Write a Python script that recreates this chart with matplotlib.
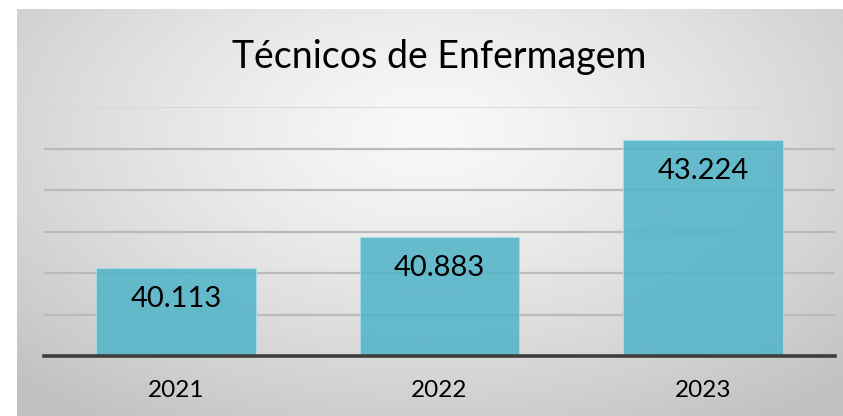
import numpy as np
import matplotlib
matplotlib.use("Agg")
import matplotlib.pyplot as plt

# data
years = ["2021", "2022", "2023"]
tecnicos = [40113, 40883, 43224]
labels = ["40.113", "40.883", "43.224"]
grid_vals = [39000, 40000, 41000, 42000, 43000]

W, H = 843, 416
fig = plt.figure(figsize=(W / 100, H / 100), dpi=100)
fig.patch.set_facecolor("white")

# gray panel with radial gradient
px0, py0 = 17, 9
bg = fig.add_axes([px0 / W, 0, 1 - px0 / W, 1 - py0 / H])
bg.set_axis_off()
yy, xx = np.mgrid[0:1:300j, 0:1:600j]
r = np.sqrt(((xx - 0.5) / 0.75) ** 2 + ((yy - 0.3) / 0.9) ** 2)
shade = np.clip(0.975 - 0.23 * r ** 1.3, 0.76, 0.98)
bg.imshow(np.dstack([shade] * 3), aspect="auto", extent=[0, 1, 0, 1], origin="upper")
bg.set_xlim(0, 1)
bg.set_ylim(0, 1)

# plot area
ax = fig.add_axes([44 / W, (H - 356) / H, (835 - 44) / W, (356 - 107.5) / H])
ax.patch.set_alpha(0)
x = np.arange(len(years))
for g in grid_vals:
    ax.axhline(g, color="#bababa", lw=1.6, zorder=1)
ax.axhline(44000, color="#d6d6d6", lw=1.2, zorder=1)

bars = ax.bar(x, tecnicos, width=0.605, bottom=0, color="#53b4c8", alpha=0.88,
              edgecolor="#a9dde7", linewidth=0.8, zorder=2)
ax.axhline(38000, color="#3e3e3e", lw=2.6, zorder=3, clip_on=False)

for xi, v, lab in zip(x, tecnicos, labels):
    ax.annotate(lab, (xi, v), xytext=(0, -31), textcoords="offset pixels",
                ha="center", va="center", fontsize=21, family="Lato", color="black", zorder=4)

ax.set_xlim(-0.5, 2.5)
ax.set_ylim(38000, 44000)
ax.set_yticks([])
ax.set_xticks(x)
ax.set_xticklabels(years, fontsize=17.5, family="Lato")
ax.tick_params(axis="x", length=0, pad=17)
for s in ax.spines.values():
    s.set_visible(False)

fig.text(439 / W, 1 - 57 / H, "Técnicos de Enfermagem", ha="center", va="center",
         fontsize=27, family="Lato", color="black")

fig.savefig("out.png", dpi=100)
